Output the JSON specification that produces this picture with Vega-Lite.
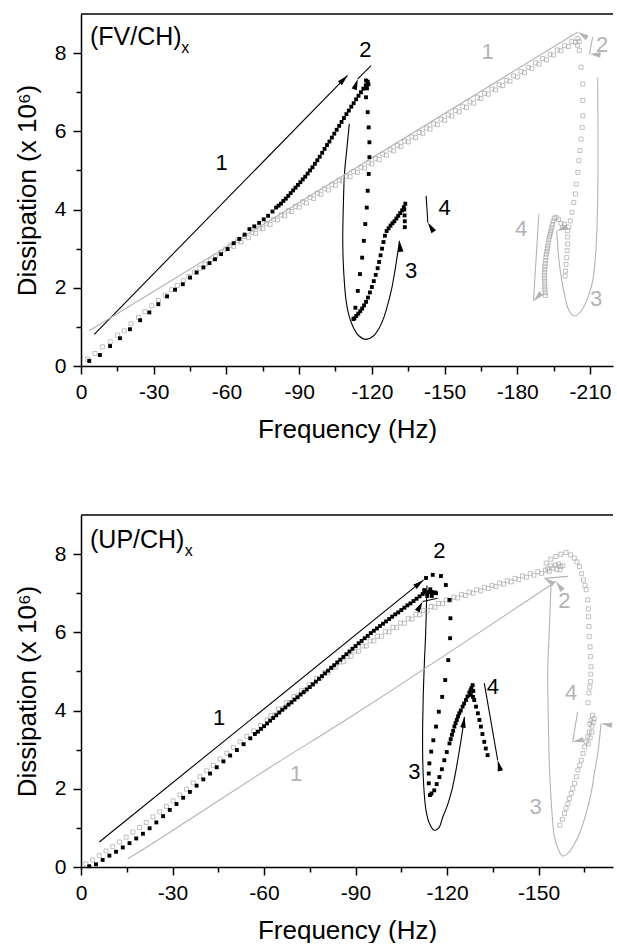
{
"$schema": "https://vega.github.io/schema/vega-lite/v6.json",
"padding": {"left": 14, "top": 13, "right": 0, "bottom": 0},
"spacing": 72,
"config": {
  "view": {"stroke": null},
  "font": "Liberation Sans",
  "axis": {"labelFontSize": 21, "titleFontSize": 26, "titleFontWeight": "normal", "labelFont": "Liberation Sans", "titleFont": "Liberation Sans", "domainWidth": 1.5, "tickWidth": 1.5, "domainColor": "black", "tickColor": "black", "labelColor": "black", "titleColor": "black", "grid": false, "labelFlush": false, "labelOverlap": false, "labelPadding": 7, "titlePadding": 14}
},
"resolve": {"scale": {"x": "independent", "y": "independent", "angle": "independent"}},
"datasets": {
"fv_dark": [
{"f":-3.4,"d":0.13},{"f":-7.8,"d":0.28},{"f":-12,"d":0.51},{"f":-16.1,"d":0.71},{"f":-20.2,"d":0.94},{"f":-24.4,"d":1.17},{"f":-28.2,"d":1.37},{"f":-31.9,"d":1.58},{"f":-35.5,"d":1.78},{"f":-38.8,"d":1.95},{"f":-42,"d":2.09},{"f":-45,"d":2.26},{"f":-47.7,"d":2.39},{"f":-50.5,"d":2.52},{"f":-53,"d":2.63},{"f":-55.3,"d":2.73},{"f":-57.8,"d":2.86},{"f":-60.5,"d":2.99},{"f":-63,"d":3.14},{"f":-65.3,"d":3.25},{"f":-67.5,"d":3.36},{"f":-69.5,"d":3.5},{"f":-71.5,"d":3.57},{"f":-73.5,"d":3.66},{"f":-75.4,"d":3.75},{"f":-77.2,"d":3.84},{"f":-79,"d":3.95},{"f":-80.5,"d":4.05},
{"f":-81.5,"d":4.1},{"f":-82.5,"d":4.15},{"f":-83.5,"d":4.22},{"f":-84.5,"d":4.28},{"f":-85.5,"d":4.35},{"f":-86.5,"d":4.42},{"f":-87.5,"d":4.49},{"f":-88.5,"d":4.56},{"f":-89.5,"d":4.63},{"f":-90.5,"d":4.7},{"f":-91.5,"d":4.77},{"f":-92.5,"d":4.84},{"f":-93.5,"d":4.92},{"f":-94.5,"d":5.0},{"f":-95.5,"d":5.08},{"f":-96.5,"d":5.17},{"f":-97.5,"d":5.26},{"f":-98.5,"d":5.35},{"f":-99.5,"d":5.45},{"f":-100.5,"d":5.55},{"f":-101.5,"d":5.65},{"f":-102.5,"d":5.74},{"f":-103.5,"d":5.84},{"f":-104.5,"d":5.94},{"f":-105.5,"d":6.04},{"f":-106.5,"d":6.14},{"f":-107.5,"d":6.24},{"f":-108.5,"d":6.34},{"f":-109.5,"d":6.44},{"f":-110.5,"d":6.53},{"f":-111.5,"d":6.63},{"f":-112.5,"d":6.72},{"f":-113.5,"d":6.82},{"f":-114.5,"d":6.91},{"f":-115.5,"d":7.0},{"f":-116.5,"d":7.09},{"f":-117.5,"d":7.18},{"f":-118.3,"d":7.27},{"f":-118,"d":7.1},{"f":-117.6,"d":7.3},{"f":-118.6,"d":7.2},
{"f":-117.6,"d":6.87},{"f":-118.3,"d":6.49},{"f":-118.7,"d":6.1},{"f":-119,"d":5.72},{"f":-119,"d":5.34},{"f":-118.7,"d":4.91},{"f":-118.3,"d":4.48},{"f":-117.9,"d":4.05},{"f":-117.3,"d":3.63},{"f":-116.7,"d":3.2},{"f":-116,"d":2.77},{"f":-115.1,"d":2.35},{"f":-114.2,"d":1.92},{"f":-113.2,"d":1.49},{"f":-112.4,"d":1.2},
{"f":-112.8,"d":1.22},{"f":-113.6,"d":1.28},{"f":-114.4,"d":1.34},{"f":-115.2,"d":1.4},{"f":-116,"d":1.47},{"f":-116.8,"d":1.55},{"f":-117.6,"d":1.64},{"f":-118.4,"d":1.75},{"f":-119.2,"d":1.88},{"f":-120,"d":2.02},{"f":-120.8,"d":2.17},{"f":-121.6,"d":2.33},{"f":-122.4,"d":2.5},{"f":-123,"d":2.66},{"f":-123.6,"d":2.83},{"f":-124.2,"d":3.0},{"f":-124.8,"d":3.17},{"f":-125.4,"d":3.33},{"f":-126.1,"d":3.45},{"f":-126.9,"d":3.52},{"f":-127.7,"d":3.59},{"f":-128.5,"d":3.65},{"f":-129.3,"d":3.7},{"f":-130.1,"d":3.77},{"f":-130.9,"d":3.84},{"f":-131.7,"d":3.91},{"f":-132.5,"d":3.98},{"f":-133.2,"d":4.06},{"f":-133.8,"d":4.15},{"f":-133.6,"d":3.55},{"f":-133.6,"d":3.7},{"f":-133.5,"d":3.85},{"f":-133.4,"d":4.0}
],
"fv_light": [
{"f":-2.8,"d":0.17},{"f":-5.8,"d":0.32},{"f":-8.9,"d":0.49},{"f":-12.1,"d":0.62},{"f":-15.1,"d":0.79},{"f":-17.9,"d":0.9},{"f":-20.6,"d":1.08},{"f":-23.7,"d":1.24},{"f":-26.4,"d":1.39},{"f":-29.2,"d":1.54},{"f":-31.9,"d":1.68},{"f":-34.7,"d":1.81},{"f":-37.4,"d":1.95},{"f":-39.8,"d":2.06},{"f":-42.2,"d":2.18},{"f":-44.5,"d":2.29},{"f":-46.8,"d":2.4},{"f":-49,"d":2.5},{"f":-51.2,"d":2.6},{"f":-53.4,"d":2.71},{"f":-55.5,"d":2.8},{"f":-57.6,"d":2.9},{"f":-59.7,"d":2.99},
{"f":-61.5,"d":3.09},{"f":-63,"d":3.06},{"f":-64.5,"d":3.2},{"f":-66,"d":3.17},{"f":-67.5,"d":3.31},{"f":-69,"d":3.28},{"f":-70.5,"d":3.42},{"f":-72,"d":3.39},{"f":-73.5,"d":3.53},{"f":-75,"d":3.51},{"f":-76.5,"d":3.64},{"f":-78,"d":3.62},{"f":-79.5,"d":3.75},{"f":-81,"d":3.73},{"f":-82.5,"d":3.86},{"f":-84,"d":3.84},{"f":-85.5,"d":3.97},{"f":-87,"d":3.95},{"f":-88.5,"d":4.08},{"f":-90,"d":4.06},{"f":-91.5,"d":4.2},{"f":-93,"d":4.17},{"f":-94.5,"d":4.31},{"f":-96,"d":4.28},{"f":-97.5,"d":4.42},{"f":-99,"d":4.39},{"f":-100.5,"d":4.53},{"f":-102,"d":4.5},{"f":-103.5,"d":4.64},{"f":-105,"d":4.62},{"f":-106.5,"d":4.75},{"f":-108,"d":4.73},{"f":-109.5,"d":4.86},{"f":-111,"d":4.84},{"f":-112.5,"d":4.97},{"f":-114,"d":4.95},{"f":-115.5,"d":5.08},{"f":-117,"d":5.06},{"f":-118.5,"d":5.2},{"f":-120,"d":5.17},{"f":-121.5,"d":5.31},{"f":-123,"d":5.28},{"f":-124.5,"d":5.42},{"f":-126,"d":5.39},{"f":-127.5,"d":5.53},{"f":-129,"d":5.5},{"f":-130.5,"d":5.64},{"f":-132,"d":5.61},{"f":-133.5,"d":5.75},{"f":-135,"d":5.73},{"f":-136.5,"d":5.86},{"f":-138,"d":5.84},{"f":-139.5,"d":5.97},{"f":-141,"d":5.95},{"f":-142.5,"d":6.08},{"f":-144,"d":6.06},{"f":-145.5,"d":6.19},{"f":-147,"d":6.17},{"f":-148.5,"d":6.31},{"f":-150,"d":6.28},{"f":-151.5,"d":6.42},{"f":-153,"d":6.39},{"f":-154.5,"d":6.53},{"f":-156,"d":6.5},{"f":-157.5,"d":6.64},{"f":-159,"d":6.61},{"f":-160.5,"d":6.75},{"f":-162,"d":6.72},{"f":-163.5,"d":6.86},{"f":-165,"d":6.84},{"f":-166.5,"d":6.97},{"f":-168,"d":6.95},{"f":-169.5,"d":7.08},{"f":-171,"d":7.06},{"f":-172.5,"d":7.19},{"f":-174,"d":7.17},{"f":-175.5,"d":7.3},{"f":-177,"d":7.28},{"f":-178.5,"d":7.42},{"f":-180,"d":7.39},{"f":-181.5,"d":7.53},{"f":-183,"d":7.5},{"f":-184.5,"d":7.64},{"f":-186,"d":7.61},{"f":-187.5,"d":7.75},{"f":-189,"d":7.72},{"f":-190.5,"d":7.86},{"f":-192,"d":7.83},{"f":-193.5,"d":7.97},{"f":-195,"d":7.95},{"f":-196.5,"d":8.08},{"f":-198,"d":8.06},{"f":-199.5,"d":8.19},{"f":-201,"d":8.17},{"f":-202.5,"d":8.3},{"f":-204,"d":8.28},{"f":-205,"d":8.37},{"f":-205.5,"d":8.3},{"f":-204.8,"d":8.2},
{"f":-205.6,"d":8.07},{"f":-206.3,"d":7.64},{"f":-207,"d":7.21},{"f":-207,"d":6.79},{"f":-207,"d":6.4},{"f":-206.8,"d":6.1},{"f":-206.3,"d":5.8},{"f":-205.9,"d":5.51},{"f":-205.4,"d":5.25},{"f":-205,"d":4.95},{"f":-204.3,"d":4.65},{"f":-204,"d":4.4},{"f":-203.3,"d":4.18},{"f":-202.6,"d":3.93},{"f":-201.9,"d":3.71},
{"f":-201.2,"d":3.55},{"f":-200.8,"d":3.46},{"f":-200.8,"d":3.3},{"f":-200.8,"d":3.12},{"f":-200.6,"d":2.95},{"f":-200.4,"d":2.77},{"f":-200.1,"d":2.6},{"f":-199.9,"d":2.43},{"f":-199.7,"d":2.3},{"f":-199.5,"d":3.62},{"f":-198.8,"d":3.54},{"f":-198,"d":3.65},{"f":-197,"d":3.75},{"f":-196,"d":3.8},{"f":-195.3,"d":3.78},{"f":-194.8,"d":3.7},{"f":-194.5,"d":3.62},{"f":-194.3,"d":3.55},{"f":-194,"d":3.48},{"f":-193.8,"d":3.42},{"f":-193.5,"d":3.36},{"f":-193.3,"d":3.3},{"f":-193,"d":3.22},{"f":-192.8,"d":3.15},{"f":-192.6,"d":3.07},{"f":-192.4,"d":3.0},{"f":-192.2,"d":2.93},{"f":-192,"d":2.86},{"f":-191.8,"d":2.78},{"f":-191.7,"d":2.7},{"f":-191.5,"d":2.62},{"f":-191.4,"d":2.55},{"f":-191.3,"d":2.47},{"f":-191.2,"d":2.4},{"f":-191.2,"d":2.32},{"f":-191.2,"d":2.25},{"f":-191.3,"d":2.17},{"f":-191.3,"d":2.1},{"f":-191.4,"d":2.02},{"f":-191.4,"d":1.95},{"f":-191.5,"d":1.87},{"f":-191.6,"d":1.8}
],
"fv_lines": [
{"id":"b1","k":0,"f":-5.5,"d":0.81,"tone":"dark"},{"id":"b1","k":1,"f":-110,"d":7.43,"tone":"dark"},
{"id":"b2","k":0,"f":-119.7,"d":7.68,"tone":"dark"},{"id":"b2","k":1,"f":-114.2,"d":7.34,"tone":"dark"},
{"id":"b3","k":0,"f":-110.7,"d":6.19,"tone":"dark"},{"id":"b3","k":1,"f":-109.6,"d":5.5,"tone":"dark"},{"id":"b3","k":2,"f":-108.7,"d":4.91,"tone":"dark"},{"id":"b3","k":3,"f":-108.2,"d":4.0,"tone":"dark"},{"id":"b3","k":4,"f":-108,"d":3.2,"tone":"dark"},{"id":"b3","k":5,"f":-108.4,"d":2.4,"tone":"dark"},{"id":"b3","k":6,"f":-109.4,"d":1.66,"tone":"dark"},{"id":"b3","k":7,"f":-110.6,"d":1.28,"tone":"dark"},{"id":"b3","k":8,"f":-112.1,"d":1.02,"tone":"dark"},{"id":"b3","k":9,"f":-114.5,"d":0.78,"tone":"dark"},{"id":"b3","k":10,"f":-117.6,"d":0.68,"tone":"dark"},{"id":"b3","k":11,"f":-120.5,"d":0.76,"tone":"dark"},{"id":"b3","k":12,"f":-123.1,"d":0.98,"tone":"dark"},{"id":"b3","k":13,"f":-125,"d":1.25,"tone":"dark"},{"id":"b3","k":14,"f":-126.6,"d":1.58,"tone":"dark"},{"id":"b3","k":15,"f":-128.1,"d":1.95,"tone":"dark"},{"id":"b3","k":16,"f":-129.3,"d":2.35,"tone":"dark"},{"id":"b3","k":17,"f":-130.4,"d":2.78,"tone":"dark"},{"id":"b3","k":18,"f":-131.4,"d":3.2,"tone":"dark"},
{"id":"b4","k":0,"f":-142.4,"d":4.35,"tone":"dark"},{"id":"b4","k":1,"f":-143.1,"d":3.67,"tone":"dark"},
{"id":"g1","k":0,"f":-3.4,"d":0.9,"tone":"light"},{"id":"g1","k":1,"f":-205,"d":8.54,"tone":"light"},
{"id":"g2","k":0,"f":-211.1,"d":8.41,"tone":"light"},{"id":"g2","k":1,"f":-209.8,"d":7.98,"tone":"light"},
{"id":"g3","k":0,"f":-213.2,"d":7.38,"tone":"light"},{"id":"g3","k":1,"f":-213.3,"d":6.0,"tone":"light"},{"id":"g3","k":2,"f":-213.2,"d":4.31,"tone":"light"},{"id":"g3","k":3,"f":-212.5,"d":3.03,"tone":"light"},{"id":"g3","k":4,"f":-211.1,"d":2.17,"tone":"light"},{"id":"g3","k":5,"f":-209.1,"d":1.75,"tone":"light"},{"id":"g3","k":6,"f":-206.3,"d":1.4,"tone":"light"},{"id":"g3","k":7,"f":-203.6,"d":1.28,"tone":"light"},{"id":"g3","k":8,"f":-201.5,"d":1.4,"tone":"light"},{"id":"g3","k":9,"f":-199.5,"d":1.83,"tone":"light"},{"id":"g3","k":10,"f":-197.4,"d":2.6,"tone":"light"},{"id":"g3","k":11,"f":-196.3,"d":3.46,"tone":"light"},
{"id":"g4","k":0,"f":-188.9,"d":3.88,"tone":"light"},{"id":"g4","k":1,"f":-186.7,"d":1.66,"tone":"light"}
],
"fv_heads": [
{"id":"a1","f":-110,"d":7.43,"tone":"dark"},{"id":"a2","f":-114.2,"d":7.34,"tone":"dark"},{"id":"a3","f":-131.4,"d":3.2,"tone":"dark"},{"id":"a4","f":-143.1,"d":3.67,"tone":"dark"},
{"id":"a5","f":-205,"d":8.54,"tone":"light"},{"id":"a6","f":-209.8,"d":7.98,"tone":"light"},{"id":"a7","f":-196.3,"d":3.46,"tone":"light"},{"id":"a8","f":-186.7,"d":1.66,"tone":"light"}
],
"fv_text": [
{"t":"1","f":-58,"d":5.18,"tone":"dark"},{"t":"2","f":-117.3,"d":8.07,"tone":"dark"},{"t":"3","f":-136.2,"d":2.43,"tone":"dark"},{"t":"4","f":-150,"d":4.05,"tone":"dark"},
{"t":"1","f":-167.8,"d":8.03,"tone":"light"},{"t":"2","f":-215,"d":8.2,"tone":"light"},{"t":"3","f":-212.5,"d":1.71,"tone":"light"},{"t":"4","f":-181.6,"d":3.5,"tone":"light"}
],
"up_dark": [
{"f":-2.7,"d":0.02},{"f":-4.9,"d":0.07},{"f":-7.1,"d":0.18},{"f":-9.3,"d":0.29},{"f":-11.5,"d":0.39},{"f":-13.7,"d":0.5},{"f":-15.9,"d":0.61},{"f":-18.1,"d":0.73},{"f":-20.3,"d":0.85},{"f":-22.5,"d":0.99},{"f":-24.7,"d":1.14},{"f":-26.9,"d":1.3},{"f":-29.1,"d":1.46},{"f":-31.3,"d":1.61},{"f":-33.5,"d":1.77},{"f":-35.7,"d":1.92},{"f":-37.9,"d":2.08},{"f":-40.1,"d":2.24},{"f":-42.3,"d":2.39},{"f":-44.5,"d":2.55},{"f":-46.7,"d":2.7},{"f":-48.9,"d":2.85},{"f":-51.1,"d":2.99},{"f":-53.3,"d":3.14},{"f":-55.5,"d":3.29},
{"f":-57,"d":3.4},{"f":-58,"d":3.46},{"f":-59,"d":3.53},{"f":-60,"d":3.6},{"f":-61,"d":3.67},{"f":-62,"d":3.74},{"f":-63,"d":3.81},{"f":-64,"d":3.88},{"f":-65,"d":3.95},{"f":-66,"d":4.02},{"f":-67,"d":4.08},{"f":-68,"d":4.15},{"f":-69,"d":4.21},{"f":-70,"d":4.28},{"f":-71,"d":4.34},{"f":-72,"d":4.41},{"f":-73,"d":4.47},{"f":-74,"d":4.54},{"f":-75,"d":4.6},{"f":-76,"d":4.67},{"f":-77,"d":4.74},{"f":-78,"d":4.81},{"f":-79,"d":4.88},{"f":-80,"d":4.95},{"f":-81,"d":5.02},{"f":-82,"d":5.09},{"f":-83,"d":5.16},{"f":-84,"d":5.23},{"f":-85,"d":5.3},{"f":-86,"d":5.37},{"f":-87,"d":5.44},{"f":-88,"d":5.51},{"f":-89,"d":5.58},{"f":-90,"d":5.65},{"f":-91,"d":5.72},{"f":-92,"d":5.78},{"f":-93,"d":5.85},{"f":-94,"d":5.91},{"f":-95,"d":5.98},{"f":-96,"d":6.04},{"f":-97,"d":6.1},{"f":-98,"d":6.16},{"f":-99,"d":6.22},{"f":-100,"d":6.28},{"f":-101,"d":6.34},{"f":-102,"d":6.4},{"f":-103,"d":6.46},{"f":-104,"d":6.51},{"f":-105,"d":6.57},{"f":-106,"d":6.63},{"f":-107,"d":6.69},{"f":-108,"d":6.74},{"f":-109,"d":6.8},{"f":-110,"d":6.86},{"f":-111,"d":6.92},
{"f":-112,"d":6.98},{"f":-113,"d":7.02},{"f":-114,"d":7.03},{"f":-115,"d":7.03},{"f":-116,"d":7.02},{"f":-116.4,"d":7.0},{"f":-113.5,"d":6.93},{"f":-115,"d":6.93},{"f":-112.5,"d":7.08},{"f":-114.5,"d":7.1},
{"f":-113.1,"d":7.39},{"f":-115.3,"d":7.47},{"f":-118,"d":7.44},{"f":-119.6,"d":7.21},{"f":-120.8,"d":6.83},{"f":-121.1,"d":6.36},{"f":-121,"d":5.85},{"f":-120.4,"d":5.29},{"f":-119.4,"d":4.78},{"f":-118.4,"d":4.35},{"f":-117.3,"d":3.97},{"f":-116.4,"d":3.59},{"f":-115.5,"d":3.24},{"f":-114.8,"d":2.95},{"f":-114.2,"d":2.65},{"f":-114,"d":2.39},{"f":-114,"d":2.14},{"f":-114.4,"d":1.84},
{"f":-114.9,"d":1.88},{"f":-115.8,"d":1.96},{"f":-116.6,"d":2.12},{"f":-117.5,"d":2.3},{"f":-118.3,"d":2.5},{"f":-119.1,"d":2.73},{"f":-119.9,"d":2.94},{"f":-120.8,"d":3.16},{"f":-121.2,"d":3.27},{"f":-121.6,"d":3.38},{"f":-122,"d":3.48},{"f":-122.4,"d":3.59},{"f":-122.8,"d":3.68},{"f":-123.2,"d":3.76},{"f":-123.6,"d":3.85},{"f":-124,"d":3.93},{"f":-124.5,"d":4.0},{"f":-125.1,"d":4.1},{"f":-125.6,"d":4.18},{"f":-126.2,"d":4.27},{"f":-126.7,"d":4.36},{"f":-127.3,"d":4.46},{"f":-127.7,"d":4.52},{"f":-128,"d":4.58},{"f":-128.4,"d":4.65},{"f":-128.6,"d":4.5},{"f":-128.5,"d":4.35},{"f":-127.8,"d":4.4},
{"f":-128.9,"d":4.27},{"f":-129.5,"d":4.1},{"f":-130.1,"d":3.93},{"f":-130.6,"d":3.76},{"f":-131.1,"d":3.59},{"f":-131.6,"d":3.4},{"f":-132.2,"d":3.2},{"f":-132.7,"d":3.03},{"f":-133.3,"d":2.86}
],
"up_light": [
{"f":-1.6,"d":0.08},{"f":-3.8,"d":0.18},{"f":-6,"d":0.29},{"f":-8.2,"d":0.41},{"f":-10.4,"d":0.52},{"f":-12.6,"d":0.64},{"f":-14.8,"d":0.76},{"f":-17,"d":0.89},{"f":-19.2,"d":1.01},{"f":-21.4,"d":1.14},{"f":-23.6,"d":1.28},{"f":-25.8,"d":1.41},{"f":-28,"d":1.55},{"f":-30.2,"d":1.69},{"f":-32.4,"d":1.84},{"f":-34.6,"d":1.99},{"f":-36.8,"d":2.15},{"f":-39,"d":2.31},{"f":-41.2,"d":2.46},{"f":-43.4,"d":2.6},{"f":-45.6,"d":2.76},{"f":-47.8,"d":2.91},{"f":-50,"d":3.06},{"f":-52.2,"d":3.2},{"f":-54.4,"d":3.34},{"f":-56.6,"d":3.48},{"f":-58.8,"d":3.62},{"f":-61,"d":3.76},
{"f":-62.25,"d":3.87},{"f":-63.5,"d":3.89},{"f":-64.75,"d":4.04},{"f":-66,"d":4.05},{"f":-67.25,"d":4.2},{"f":-68.5,"d":4.21},{"f":-69.75,"d":4.36},{"f":-71,"d":4.37},{"f":-72.25,"d":4.51},{"f":-73.5,"d":4.52},{"f":-74.75,"d":4.66},{"f":-76,"d":4.67},{"f":-77.25,"d":4.82},{"f":-78.5,"d":4.83},{"f":-79.75,"d":4.97},{"f":-81,"d":4.97},{"f":-82.25,"d":5.1},{"f":-83.5,"d":5.11},{"f":-84.75,"d":5.24},{"f":-86,"d":5.25},{"f":-87.25,"d":5.38},{"f":-88.5,"d":5.39},{"f":-89.75,"d":5.52},{"f":-91,"d":5.52},{"f":-92.25,"d":5.65},{"f":-93.5,"d":5.65},{"f":-94.75,"d":5.78},{"f":-96,"d":5.78},{"f":-97.25,"d":5.9},{"f":-98.5,"d":5.9},{"f":-99.75,"d":6.02},{"f":-101,"d":6.01},{"f":-102.25,"d":6.13},{"f":-103.5,"d":6.12},{"f":-104.75,"d":6.24},{"f":-106,"d":6.23},{"f":-107.25,"d":6.35},{"f":-108.5,"d":6.34},{"f":-109.75,"d":6.46},{"f":-111,"d":6.45},{"f":-112.25,"d":6.56},{"f":-113.5,"d":6.55},{"f":-114.75,"d":6.66},{"f":-116,"d":6.64},{"f":-117.25,"d":6.74},{"f":-118.5,"d":6.73},{"f":-119.75,"d":6.83},{"f":-121,"d":6.81},{"f":-122.25,"d":6.9},{"f":-123.5,"d":6.88},{"f":-124.75,"d":6.97},{"f":-126,"d":6.94},{"f":-127.25,"d":7.03},{"f":-128.5,"d":7.0},{"f":-129.75,"d":7.09},{"f":-131,"d":7.06},{"f":-132.25,"d":7.15},{"f":-133.5,"d":7.12},{"f":-134.75,"d":7.2},{"f":-136,"d":7.17},{"f":-137.25,"d":7.26},{"f":-138.5,"d":7.23},{"f":-139.75,"d":7.32},{"f":-141,"d":7.29},{"f":-142.25,"d":7.38},{"f":-143.5,"d":7.35},{"f":-144.75,"d":7.44},{"f":-146,"d":7.41},{"f":-147.25,"d":7.5},{"f":-148.5,"d":7.46},{"f":-149.75,"d":7.55},{"f":-151,"d":7.51},{"f":-152.25,"d":7.59},{"f":-153.5,"d":7.56},{"f":-154.75,"d":7.64},{"f":-156,"d":7.61},{"f":-157.25,"d":7.69},
{"f":-154,"d":7.7},{"f":-155.5,"d":7.72},{"f":-157,"d":7.6},{"f":-158,"d":7.7},{"f":-156.5,"d":7.75},{"f":-153,"d":7.62},
{"f":-152.5,"d":7.77},{"f":-154,"d":7.87},{"f":-155.7,"d":7.94},{"f":-157.3,"d":8.0},{"f":-159,"d":8.04},{"f":-160.5,"d":7.98},{"f":-161.7,"d":7.9},{"f":-162.6,"d":7.8},{"f":-163.4,"d":7.68},{"f":-164.1,"d":7.5},{"f":-164.7,"d":7.34},{"f":-165.2,"d":7.2},{"f":-165.6,"d":7.09},{"f":-166.1,"d":6.83},{"f":-166.3,"d":6.6},{"f":-166.4,"d":6.4},{"f":-166.5,"d":6.15},{"f":-166.6,"d":5.89},{"f":-166.9,"d":5.63},{"f":-167,"d":5.38},{"f":-167.2,"d":5.12},{"f":-167.1,"d":4.93},{"f":-167,"d":4.74},{"f":-166.8,"d":4.6},{"f":-166.5,"d":4.45},{"f":-166.2,"d":4.2},
{"f":-167.7,"d":3.88},{"f":-168.2,"d":3.8},{"f":-167.9,"d":3.7},{"f":-167.2,"d":3.75},{"f":-167.5,"d":3.6},{"f":-166.8,"d":3.65},{"f":-167.4,"d":3.45},{"f":-166.6,"d":3.45},{"f":-166.9,"d":3.3},{"f":-166.1,"d":3.33},{"f":-166.3,"d":3.15},{"f":-165.6,"d":3.2},{"f":-165.1,"d":3.07},{"f":-164.6,"d":2.9},{"f":-164,"d":2.73},{"f":-163.5,"d":2.6},{"f":-162.9,"d":2.48},{"f":-162.4,"d":2.31},{"f":-161.8,"d":2.14},{"f":-161.2,"d":2.01},{"f":-160.7,"d":1.88},{"f":-160.1,"d":1.75},{"f":-159.6,"d":1.62},{"f":-159,"d":1.5},{"f":-158.5,"d":1.37},{"f":-157.8,"d":1.22},{"f":-157,"d":1.07}
],
"up_lines": [
{"id":"b1","k":0,"f":-6,"d":0.64,"tone":"dark"},{"id":"b1","k":1,"f":-112.3,"d":7.34,"tone":"dark"},
{"id":"b2","k":0,"f":-116.9,"d":6.87,"tone":"dark"},{"id":"b2","k":1,"f":-112,"d":6.79,"tone":"dark"},
{"id":"b3","k":0,"f":-113.4,"d":7.2,"tone":"dark"},{"id":"b3","k":1,"f":-113,"d":6.0,"tone":"dark"},{"id":"b3","k":2,"f":-112.6,"d":5.29,"tone":"dark"},{"id":"b3","k":3,"f":-112.2,"d":4.4,"tone":"dark"},{"id":"b3","k":4,"f":-112,"d":3.59,"tone":"dark"},{"id":"b3","k":5,"f":-112,"d":2.9,"tone":"dark"},{"id":"b3","k":6,"f":-112.2,"d":2.3,"tone":"dark"},{"id":"b3","k":7,"f":-112.6,"d":1.8,"tone":"dark"},{"id":"b3","k":8,"f":-113.1,"d":1.45,"tone":"dark"},{"id":"b3","k":9,"f":-114.2,"d":1.12,"tone":"dark"},{"id":"b3","k":10,"f":-115.8,"d":0.94,"tone":"dark"},{"id":"b3","k":11,"f":-117.3,"d":1.0,"tone":"dark"},{"id":"b3","k":12,"f":-118.6,"d":1.28,"tone":"dark"},{"id":"b3","k":13,"f":-120,"d":1.55,"tone":"dark"},{"id":"b3","k":14,"f":-121.3,"d":1.88,"tone":"dark"},{"id":"b3","k":15,"f":-122.5,"d":2.3,"tone":"dark"},{"id":"b3","k":16,"f":-123.5,"d":2.73,"tone":"dark"},{"id":"b3","k":17,"f":-124.7,"d":3.3,"tone":"dark"},{"id":"b3","k":18,"f":-125.7,"d":3.84,"tone":"dark"},
{"id":"b4","k":0,"f":-132.2,"d":4.7,"tone":"dark"},{"id":"b4","k":1,"f":-136.6,"d":2.73,"tone":"dark"},
{"id":"g1","k":0,"f":-15.3,"d":0.21,"tone":"light"},{"id":"g1","k":1,"f":-24.6,"d":0.66,"tone":"light"},{"id":"g1","k":2,"f":-60,"d":2.45,"tone":"light"},{"id":"g1","k":3,"f":-92.4,"d":4.04,"tone":"light"},{"id":"g1","k":4,"f":-155.7,"d":7.3,"tone":"light"},
{"id":"g2","k":0,"f":-159.6,"d":7.43,"tone":"light"},{"id":"g2","k":1,"f":-151.9,"d":7.38,"tone":"light"},
{"id":"g3","k":0,"f":-154.1,"d":7.26,"tone":"light"},{"id":"g3","k":1,"f":-153.5,"d":6.0,"tone":"light"},{"id":"g3","k":2,"f":-153,"d":5.04,"tone":"light"},{"id":"g3","k":3,"f":-153.2,"d":3.8,"tone":"light"},{"id":"g3","k":4,"f":-153.6,"d":2.48,"tone":"light"},{"id":"g3","k":5,"f":-154.3,"d":1.5,"tone":"light"},{"id":"g3","k":6,"f":-155.2,"d":0.77,"tone":"light"},{"id":"g3","k":7,"f":-156.5,"d":0.45,"tone":"light"},{"id":"g3","k":8,"f":-157.9,"d":0.28,"tone":"light"},{"id":"g3","k":9,"f":-160,"d":0.38,"tone":"light"},{"id":"g3","k":10,"f":-161.8,"d":0.6,"tone":"light"},{"id":"g3","k":11,"f":-163.4,"d":0.85,"tone":"light"},{"id":"g3","k":12,"f":-165.5,"d":1.35,"tone":"light"},{"id":"g3","k":13,"f":-167.2,"d":1.88,"tone":"light"},{"id":"g3","k":14,"f":-168.5,"d":2.5,"tone":"light"},{"id":"g3","k":15,"f":-169.4,"d":2.9,"tone":"light"},{"id":"g3","k":16,"f":-170.5,"d":3.67,"tone":"light"},
{"id":"g4","k":0,"f":-162.8,"d":3.97,"tone":"light"},{"id":"g4","k":1,"f":-161.2,"d":3.2,"tone":"light"}
],
"up_heads": [
{"id":"c1","f":-112.3,"d":7.34,"tone":"dark"},{"id":"c2","f":-112,"d":6.79,"tone":"dark"},{"id":"c3","f":-125.7,"d":3.84,"tone":"dark"},{"id":"c4","f":-136.6,"d":2.73,"tone":"dark"},
{"id":"c5","f":-155.7,"d":7.3,"tone":"light"},{"id":"c6","f":-151.9,"d":7.38,"tone":"light"},{"id":"c7","f":-170.5,"d":3.67,"tone":"light"},{"id":"c8","f":-161.2,"d":3.2,"tone":"light"}
],
"up_text": [
{"t":"1","f":-45.3,"d":3.8,"tone":"dark"},{"t":"2","f":-117.5,"d":8.07,"tone":"dark"},{"t":"3","f":-109.3,"d":2.43,"tone":"dark"},{"t":"4","f":-135,"d":4.61,"tone":"dark"},
{"t":"1","f":-70.5,"d":2.39,"tone":"light"},{"t":"2","f":-158.5,"d":6.79,"tone":"light"},{"t":"3","f":-149,"d":1.54,"tone":"light"},{"t":"4","f":-160.7,"d":4.44,"tone":"light"}
]
},
"vconcat": [
{
 "width": 532, "height": 352,
 "encoding": {
  "x": {"field": "f", "type": "quantitative", "scale": {"domain": [0, -219.5], "nice": false, "zero": false},
        "axis": {"title": "Frequency (Hz)", "values": [0,-15,-30,-45,-60,-75,-90,-105,-120,-135,-150,-165,-180,-195,-210], "labelExpr": "datum.value % 30 === 0 ? '' + datum.value : ''", "tickSize": {"condition": {"test": "datum.value % 30 === 0", "value": 8}, "value": 5}}},
  "y": {"field": "d", "type": "quantitative", "scale": {"domain": [0, 9], "nice": false, "zero": false},
        "axis": {"title": "Dissipation (x 10⁶)", "values": [0,1,2,3,4,5,6,7,8], "labelExpr": "datum.value % 2 === 0 ? '' + datum.value : ''", "tickSize": {"condition": {"test": "datum.value % 2 === 0", "value": 8}, "value": 5}}}
 },
 "layer": [
  {"data": {"values": [{"f": 0, "f2": -219.5, "d": 9}]}, "mark": {"type": "rule", "color": "black", "strokeWidth": 1.5}, "encoding": {"x2": {"field": "f2"}}},
  {"data": {"name": "fv_lines"}, "mark": {"type": "line", "strokeWidth": 1.1, "interpolate": "catmull-rom"},
   "encoding": {"detail": {"field": "id"}, "order": {"field": "k"}, "color": {"field": "tone", "type": "nominal", "scale": {"domain": ["dark", "light"], "range": ["#000000", "#b3b3b3"]}, "legend": null}}},
  {"data": {"name": "fv_light"}, "mark": {"type": "point", "shape": "square", "filled": false, "size": 16, "stroke": "#a6a6a6", "strokeWidth": 0.7, "opacity": 1}},
  {"data": {"name": "fv_dark"}, "mark": {"type": "point", "shape": "square", "filled": true, "size": 15, "color": "#000000", "opacity": 1}},
  {"data": {"name": "fv_heads"}, "mark": {"type": "point", "shape": "M0,0L-0.55,2.2L0.55,2.2Z", "filled": true, "size": 100, "opacity": 1},
   "encoding": {"angle": {"field": "id", "type": "nominal", "scale": {"domain": ["a1","a2","a3","a4","a5","a6","a7","a8"], "range": [44.5,-135,8.4,176.4,58.6,-168.4,-4.5,-176.4]}, "legend": null},
                "color": {"field": "tone", "type": "nominal", "scale": {"domain": ["dark", "light"], "range": ["#000000", "#b3b3b3"]}, "legend": null}}},
  {"data": {"name": "fv_text"}, "mark": {"type": "text", "fontSize": 22, "align": "center", "baseline": "middle"},
   "encoding": {"text": {"field": "t"}, "color": {"field": "tone", "type": "nominal", "scale": {"domain": ["dark", "light"], "range": ["#000000", "#b3b3b3"]}, "legend": null}}},
  {"data": {"values": [{"t": "(FV/CH)", "f": -3.7, "d": 8.2}]}, "mark": {"type": "text", "fontSize": 25, "align": "left", "baseline": "alphabetic", "color": "black"}, "encoding": {"text": {"field": "t"}}},
  {"data": {"values": [{"t": "x", "f": -41.4, "d": 8.0}]}, "mark": {"type": "text", "fontSize": 16, "align": "left", "baseline": "alphabetic", "color": "black"}, "encoding": {"text": {"field": "t"}}}
 ]
},
{
 "width": 532, "height": 352,
 "encoding": {
  "x": {"field": "f", "type": "quantitative", "scale": {"domain": [0, -174.4], "nice": false, "zero": false},
        "axis": {"title": "Frequency (Hz)", "values": [0,-15,-30,-45,-60,-75,-90,-105,-120,-135,-150,-165], "labelExpr": "datum.value % 30 === 0 ? '' + datum.value : ''", "tickSize": {"condition": {"test": "datum.value % 30 === 0", "value": 8}, "value": 5}}},
  "y": {"field": "d", "type": "quantitative", "scale": {"domain": [0, 9], "nice": false, "zero": false},
        "axis": {"title": "Dissipation (x 10⁶)", "values": [0,1,2,3,4,5,6,7,8], "labelExpr": "datum.value % 2 === 0 ? '' + datum.value : ''", "tickSize": {"condition": {"test": "datum.value % 2 === 0", "value": 8}, "value": 5}}}
 },
 "layer": [
  {"data": {"values": [{"f": 0, "f2": -174.4, "d": 9}]}, "mark": {"type": "rule", "color": "black", "strokeWidth": 1.5}, "encoding": {"x2": {"field": "f2"}}},
  {"data": {"name": "up_lines"}, "mark": {"type": "line", "strokeWidth": 1.1, "interpolate": "catmull-rom"},
   "encoding": {"detail": {"field": "id"}, "order": {"field": "k"}, "color": {"field": "tone", "type": "nominal", "scale": {"domain": ["dark", "light"], "range": ["#000000", "#b3b3b3"]}, "legend": null}}},
  {"data": {"name": "up_light"}, "mark": {"type": "point", "shape": "square", "filled": false, "size": 16, "stroke": "#a6a6a6", "strokeWidth": 0.7, "opacity": 1}},
  {"data": {"name": "up_dark"}, "mark": {"type": "point", "shape": "square", "filled": true, "size": 15, "color": "#000000", "opacity": 1}},
  {"data": {"name": "up_heads"}, "mark": {"type": "point", "shape": "M0,0L-0.55,2.2L0.55,2.2Z", "filled": true, "size": 100, "opacity": 1},
   "encoding": {"angle": {"field": "id", "type": "nominal", "scale": {"domain": ["c1","c2","c3","c4","c5","c6","c7","c8"], "range": [51.1,-101.8,8.2,170.1,56.6,-94.9,6.4,-170.7]}, "legend": null},
                "color": {"field": "tone", "type": "nominal", "scale": {"domain": ["dark", "light"], "range": ["#000000", "#b3b3b3"]}, "legend": null}}},
  {"data": {"name": "up_text"}, "mark": {"type": "text", "fontSize": 22, "align": "center", "baseline": "middle"},
   "encoding": {"text": {"field": "t"}, "color": {"field": "tone", "type": "nominal", "scale": {"domain": ["dark", "light"], "range": ["#000000", "#b3b3b3"]}, "legend": null}}},
  {"data": {"values": [{"t": "(UP/CH)", "f": -2.95, "d": 8.16}]}, "mark": {"type": "text", "fontSize": 25, "align": "left", "baseline": "alphabetic", "color": "black"}, "encoding": {"text": {"field": "t"}}},
  {"data": {"values": [{"t": "x", "f": -34, "d": 7.96}]}, "mark": {"type": "text", "fontSize": 16, "align": "left", "baseline": "alphabetic", "color": "black"}, "encoding": {"text": {"field": "t"}}}
 ]
}
]
}
